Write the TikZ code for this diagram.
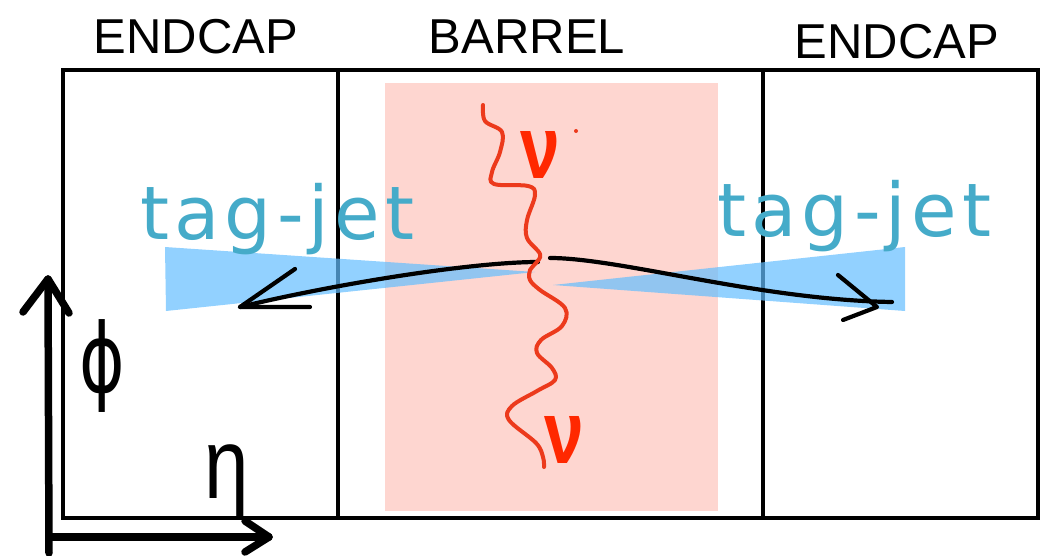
\documentclass[tikz,border=0pt]{standalone}
\usepackage{fontspec}
\setmainfont{Liberation Sans}
\newfontfamily\thinfont{Liberation Sans}
\newfontfamily\handfont{DejaVu Sans}[LetterSpace=7]
\newfontfamily\symfont{DejaVu Sans}
\definecolor{pinkbg}{RGB}{254,214,208}
\definecolor{jetblue}{RGB}{100,190,255}
\definecolor{tealtxt}{RGB}{69,171,201}
\definecolor{wavered}{RGB}{236,58,28}
\definecolor{nured}{RGB}{255,40,0}
\begin{document}
\begin{tikzpicture}[x=1pt,y=-1pt,
  region/.style={draw=black,line width=3.2pt,minimum height=448pt,inner sep=0pt},
  lab/.style={inner sep=0pt,font=\thinfont\fontsize{49}{49}\selectfont},
  tagjet/.style={inner sep=0pt,anchor=base west,text=tealtxt,font=\handfont\fontsize{74}{74}\selectfont},
  nu/.style={inner sep=0pt,text=nured,xscale=0.8,font=\thinfont\bfseries\fontsize{89}{89}\selectfont},
  wedge/.style={fill=jetblue,fill opacity=0.7},
  curve/.style={draw=black,line width=4.2pt,line cap=round,line join=round},
  axis/.style={draw=black,line width=7.5pt,line cap=round,line join=round},
  wave/.style={draw=wavered,line width=4pt,line cap=round,line join=round}]
\useasboundingbox (0,0) rectangle (1050,556);
% barrel shading
\fill[pinkbg] (385,83) rectangle (718,511);
% regions
\node[region,minimum width=275pt] (ecl) at (200.5,294) {};
\node[region,minimum width=425pt] (bar) at (550.5,294) {};
\node[region,minimum width=275pt] (ecr) at (900.5,294) {};
% labels
\node[lab] (lECL) at (196,37) {ENDCAP};
\node[lab] (lBAR) at (527,37) {BARREL};
\node[lab] (lECR) at (897,42) {ENDCAP};
% jet cones
\fill[wedge] (165,247) -- (535,272) -- (166,311) -- cycle;
\fill[wedge] (905,247) -- (553,285) -- (905,311) -- cycle;
% tag-jet labels
\node[tagjet] (tjl) at (140,240) {tag-jet};
\node[tagjet] (tjr) at (717,237) {tag-jet};
% jets
\coordinate (lstart) at (538,262);
\coordinate (ltip) at (240,307);
\coordinate (lh1) at (295,269);
\coordinate (lh2) at (310,307);
\draw[curve] (lstart) .. controls (470,262) and (330,285) .. (ltip);
\draw[curve] (lh1) -- (ltip) -- (lh2);
\coordinate (rstart) at (550,258);
\coordinate (rend) at (892,302);
\coordinate (rtip) at (877,307);
\coordinate (rh1) at (838,275);
\coordinate (rh2) at (843,320);
\draw[curve] (rstart) .. controls (620,258) and (760,300) .. (rend);
\draw[curve] (rh1) -- (rtip) -- (rh2);
% neutrino wave
\draw[wave] plot[smooth,tension=0.6] coordinates {(483,105) (485,121) (502,132) (500,152) (492,172) (494,184) (528,186) (535,195) (527,220) (527,238) (540,254) (536,263) (530,270) (530,280) (540,290) (565,308) (562,326) (541,340) (537,353) (552,368) (555,380) (537,391) (512,406) (509,420) (536,443) (543,457) (544,467)};
\fill[wavered] (576,131) circle (2);
\node[nu] (nu1) at (540,155) {ν};
\node[nu] (nu2) at (564,440) {ν};
% axes
\coordinate (o) at (49,537);
\coordinate (vbot) at (49,553);
\coordinate (vtip) at (48,279);
\coordinate (va1) at (23,312);
\coordinate (va2) at (69,313);
\coordinate (htip) at (269,537);
\coordinate (ha1) at (245,521);
\coordinate (ha2) at (245,552);
\draw[axis] (vbot) -- (vtip);
\draw[axis] (va1) -- (vtip) -- (va2);
\draw[axis] (o) -- (htip);
\draw[axis] (ha1) -- (htip) -- (ha2);
\node[inner sep=0pt,xscale=0.72,font=\symfont\fontsize{96}{96}\selectfont] (phi) at (102,366) {ϕ};
\node[inner sep=0pt,anchor=base,xscale=0.8,font=\thinfont\fontsize{100}{100}\selectfont] (eta) at (227,498) {η};
\end{tikzpicture}
\end{document}
